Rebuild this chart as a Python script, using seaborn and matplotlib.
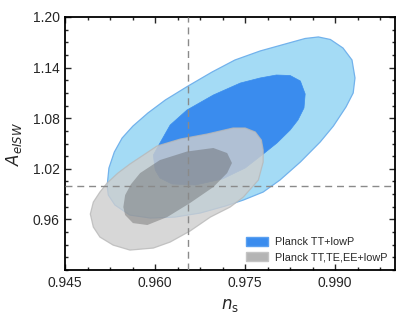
import matplotlib
matplotlib.use("Agg")
import matplotlib.pyplot as plt
from matplotlib.patches import Patch
from matplotlib.ticker import MultipleLocator, FixedLocator, FormatStrFormatter
import seaborn as sns

# contour outlines (n_s, A_eISW)
tt_95_ns = [0.9520, 0.9523, 0.9532, 0.9545, 0.9563, 0.9588, 0.9617, 0.9655, 0.9695, 0.9733,
            0.9775, 0.9817, 0.9850, 0.9872, 0.9892, 0.9913, 0.9928, 0.9933, 0.9930, 0.9918,
            0.9897, 0.9875, 0.9842, 0.9808, 0.9780, 0.9747, 0.9717, 0.9675, 0.9633, 0.9592,
            0.9558, 0.9533, 0.9522]
tt_95_a = [0.9996, 1.0209, 1.0399, 1.0565, 1.0707, 1.0862, 1.1016, 1.1182, 1.1348, 1.1490,
           1.1597, 1.1680, 1.1745, 1.1763, 1.1733, 1.1632, 1.1490, 1.1277, 1.1099, 1.0933,
           1.0707, 1.0518, 1.0281, 1.0067, 0.9925, 0.9830, 0.9759, 0.9676, 0.9628, 0.9617,
           0.9652, 0.9771, 0.9889]

tt_68_ns = [0.9600, 0.9597, 0.9608, 0.9625, 0.9653, 0.9697, 0.9742, 0.9775, 0.9802, 0.9825,
            0.9842, 0.9850, 0.9848, 0.9838, 0.9825, 0.9803, 0.9780, 0.9750, 0.9712, 0.9667,
            0.9628, 0.9608]
tt_68_a = [1.0186, 1.0364, 1.0506, 1.0719, 1.0897, 1.1075, 1.1217, 1.1277, 1.1312, 1.1306,
           1.1241, 1.1087, 1.0921, 1.0779, 1.0660, 1.0506, 1.0375, 1.0209, 1.0079, 1.0008,
           1.0020, 1.0091]

all_95_ns = [0.9492, 0.9497, 0.9508, 0.9520, 0.9538, 0.9558, 0.9583, 0.9603, 0.9642, 0.9687,
             0.9730, 0.9750, 0.9767, 0.9777, 0.9780, 0.9780, 0.9772, 0.9747, 0.9725, 0.9692,
             0.9658, 0.9625, 0.9597, 0.9558, 0.9530, 0.9508, 0.9497]
all_95_a = [0.9664, 0.9806, 0.9925, 1.0032, 1.0150, 1.0257, 1.0375, 1.0470, 1.0553, 1.0613,
            1.0684, 1.0684, 1.0636, 1.0541, 1.0423, 1.0281, 1.0067, 0.9866, 0.9747, 0.9628,
            0.9462, 0.9332, 0.9261, 0.9237, 0.9296, 0.9391, 0.9510]

all_68_ns = [0.9547, 0.9550, 0.9560, 0.9575, 0.9608, 0.9653, 0.9697, 0.9720, 0.9728, 0.9720,
             0.9697, 0.9658, 0.9620, 0.9587, 0.9563, 0.9550]
all_68_a = [0.9747, 0.9889, 1.0020, 1.0150, 1.0304, 1.0405, 1.0447, 1.0387, 1.0269, 1.0150,
            0.9984, 0.9794, 0.9628, 0.9534, 0.9557, 0.9652]

ns_fid = 0.9655
a_fid = 1.0
labels = ["Planck TT+lowP", "Planck TT,TE,EE+lowP"]
x_ticks = [0.945, 0.960, 0.975, 0.990]
y_ticks = [0.96, 1.02, 1.08, 1.14, 1.20]

sns.set_style("ticks")
plt.rcParams["font.family"] = ["Liberation Sans", "DejaVu Sans"]
plt.rcParams["mathtext.fontset"] = "dejavusans"

fig = plt.figure(figsize=(4.07, 3.2), dpi=100)
ax = fig.add_axes([0.160, 0.156, 0.811, 0.791])

ax.fill(tt_95_ns, tt_95_a, facecolor="#a4dbf5", edgecolor="#72b2ec", lw=0.9, zorder=1)
ax.fill(tt_68_ns, tt_68_a, facecolor="#3a8cee", edgecolor="#3a8cee", lw=0.5, zorder=2)
ax.fill(all_95_ns, all_95_a, facecolor="#cecece", alpha=0.8, edgecolor="#b8b8b8", lw=0.9, zorder=3)
ax.fill(all_68_ns, all_68_a, facecolor="#505050", alpha=0.36, edgecolor="none", zorder=4)

ax.axvline(ns_fid, color="#8a8a8a", ls=(0, (5, 3.5)), lw=1.0, zorder=5)
ax.axhline(a_fid, color="#8a8a8a", ls=(0, (5, 3.5)), lw=1.0, zorder=5)

ax.set_xlim(0.945, 1.0)
ax.set_ylim(0.9, 1.2)
ax.xaxis.set_major_locator(FixedLocator(x_ticks))
ax.xaxis.set_minor_locator(MultipleLocator(0.00375))
ax.yaxis.set_major_locator(FixedLocator(y_ticks))
ax.yaxis.set_minor_locator(MultipleLocator(0.015))
ax.xaxis.set_major_formatter(FormatStrFormatter("%.3f"))
ax.yaxis.set_major_formatter(FormatStrFormatter("%.2f"))
ax.tick_params(which="both", direction="in", top=True, right=True, labelsize=10, width=1.0)
ax.tick_params(which="major", length=4.5, pad=4)
ax.tick_params(which="minor", length=2.3)
for s in ax.spines.values():
    s.set_linewidth(1.3)
    s.set_color("black")

ax.set_xlabel(r"$n_{\rm s}$", fontsize=12, labelpad=5)
ax.set_ylabel(r"$A_{eISW}$", fontsize=12, labelpad=6)

handles = [Patch(facecolor="#3a8cee", edgecolor="#5aa0f0"),
           Patch(facecolor="#b4b4b4", edgecolor="#c4c4c4")]
ax.legend(handles, labels, loc="lower right", frameon=False, fontsize=7.8,
          handlelength=2.0, handleheight=0.9, handletextpad=0.7,
          borderaxespad=0.3, labelspacing=0.45)

fig.savefig("out.png", dpi=100)
